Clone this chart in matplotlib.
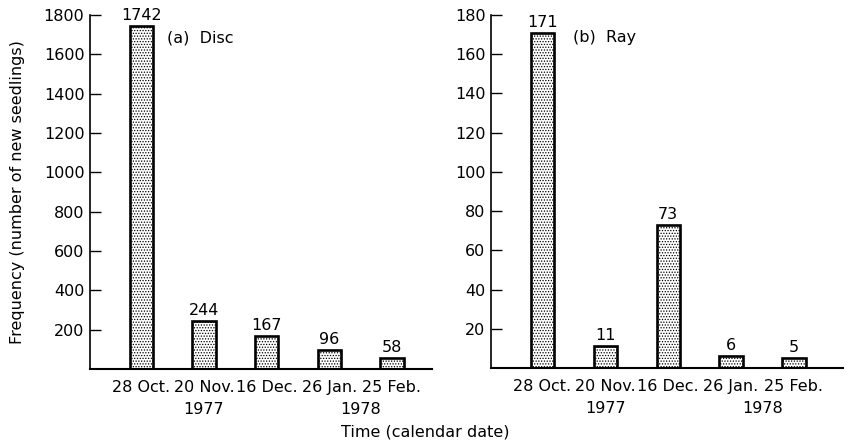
import matplotlib.pyplot as plt
import numpy as np

# seedling emergence counts per census date
dates = ["28 Oct.", "20 Nov.", "16 Dec.", "26 Jan.", "25 Feb."]
disc_counts = [1742, 244, 167, 96, 58]
ray_counts = [171, 11, 73, 6, 5]
disc_ticks = [200, 400, 600, 800, 1000, 1200, 1400, 1600, 1800]
ray_ticks = [20, 40, 60, 80, 100, 120, 140, 160, 180]

plt.rcParams["font.family"] = "DejaVu Sans"
plt.rcParams["hatch.linewidth"] = 0.6
FS = 11.5

fig = plt.figure(figsize=(8.51, 4.46), dpi=100)
ax1 = fig.add_axes([90 / 851, 1 - 369 / 446, 342 / 851, 354 / 446])
ax2 = fig.add_axes([491 / 851, 1 - 368 / 446, 352 / 851, 353 / 446])

x = np.arange(len(dates))


def draw_panel(ax, counts, ticks, ymax, xmax, label, label_x, offset):
    ax.bar(x, counts, width=0.37, facecolor="white", edgecolor="black",
           linewidth=1.9, hatch="......", zorder=2)
    for xi, c in zip(x, counts):
        ax.text(xi, c + offset, str(c), ha="center", va="bottom", fontsize=FS)
    ax.set_xlim(-0.82, xmax)
    ax.set_ylim(0, ymax)
    ax.set_yticks(ticks)
    ax.set_yticklabels([str(t) for t in ticks], fontsize=FS)
    ax.tick_params(axis="y", direction="in", length=8, width=1.0, pad=4)
    ax.set_xticks(x)
    ax.set_xticklabels(dates, fontsize=FS)
    ax.tick_params(axis="x", length=0, pad=8)
    ax.spines["top"].set_visible(False)
    ax.spines["right"].set_visible(False)
    ax.spines["left"].set_linewidth(1.2)
    ax.spines["bottom"].set_linewidth(1.5)
    ax.text(label_x, 0.935, label, transform=ax.transAxes, fontsize=FS,
            ha="left", va="center")
    # year captions below the date labels
    ax.text(1, -0.115, "1977", transform=ax.get_xaxis_transform(),
            ha="center", va="center", fontsize=FS)
    ax.text(3.5, -0.115, "1978", transform=ax.get_xaxis_transform(),
            ha="center", va="center", fontsize=FS)


draw_panel(ax1, disc_counts, disc_ticks, 1800, 4.64, "(a)  Disc", 0.225, 15)
draw_panel(ax2, ray_counts, ray_ticks, 180, 4.78, "(b)  Ray", 0.233, 1.5)

ax1.set_ylabel("Frequency (number of new seedlings)", fontsize=FS)
ax1.yaxis.set_label_coords(-0.19, 0.5)

fig.text(425 / 851, 1 - 432 / 446, "Time (calendar date)", ha="center",
         va="center", fontsize=FS)

plt.savefig("out.png", dpi=100)
